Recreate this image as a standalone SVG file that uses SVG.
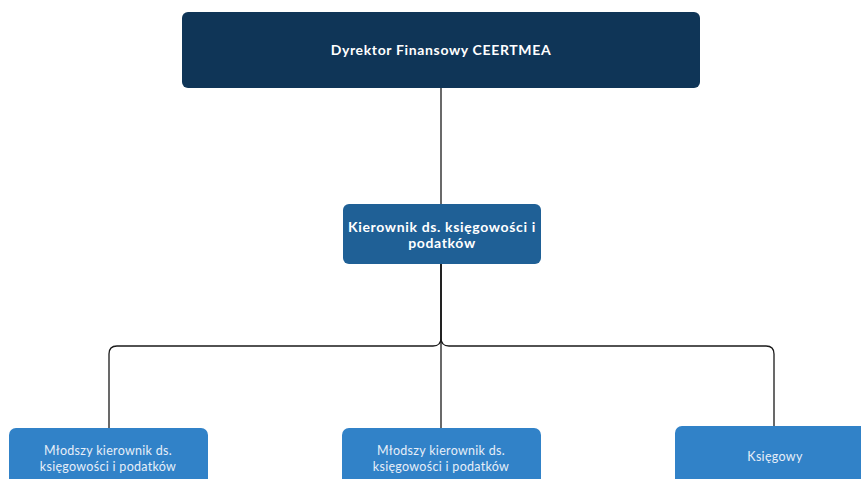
<svg xmlns="http://www.w3.org/2000/svg" width="861" height="479" viewBox="0 0 861 479">
<style>
.t{font-family:Lato,"Open Sans","Liberation Sans",sans-serif;text-anchor:middle;fill:#ffffff}
.b{font-weight:bold;font-size:14px;letter-spacing:0.65px}
.r{font-size:12.5px;letter-spacing:0.3px;fill:#e6eef8}
.conn{fill:none;stroke:#1a1a1a;stroke-width:1.3}
</style>
<rect width="861" height="479" fill="#ffffff"/>
<g id="connectors">
<path class="conn" d="M441,88 V204"/>
<path class="conn" d="M441,264 V338 Q441,346 433,346 H117 Q109,346 109,354 V428"/>
<path class="conn" d="M441,264 V338 Q441,346 449,346 H766 Q774,346 774,354 V426"/>
<path class="conn" d="M441,264 V428"/>
</g>
<g id="n_dyrektor">
<rect x="182" y="12" width="518" height="76" rx="6" fill="#0f3557"/>
<text class="t b" x="441" y="55">Dyrektor Finansowy CEERTMEA</text>
</g>
<g id="n_kierownik">
<rect x="343" y="204" width="198" height="60" rx="6" fill="#1f6096"/>
<text class="t b" x="442" y="231.5">Kierownik ds. księgowości i</text>
<text class="t b" x="442" y="247.5">podatków</text>
</g>
<g id="n_mlodszy1">
<rect x="9" y="428" width="199" height="70" rx="7" fill="#3182c8"/>
<text class="t r" x="108" y="455">Młodszy kierownik ds.</text>
<text class="t r" x="108" y="471">księgowości i podatków</text>
</g>
<g id="n_mlodszy2">
<rect x="342" y="428" width="199" height="70" rx="7" fill="#3182c8"/>
<text class="t r" x="441" y="455">Młodszy kierownik ds.</text>
<text class="t r" x="441" y="471">księgowości i podatków</text>
</g>
<g id="n_ksiegowy">
<rect x="675" y="426" width="199" height="70" rx="7" fill="#3182c8"/>
<text class="t r" x="775" y="461">Księgowy</text>
</g>
</svg>
